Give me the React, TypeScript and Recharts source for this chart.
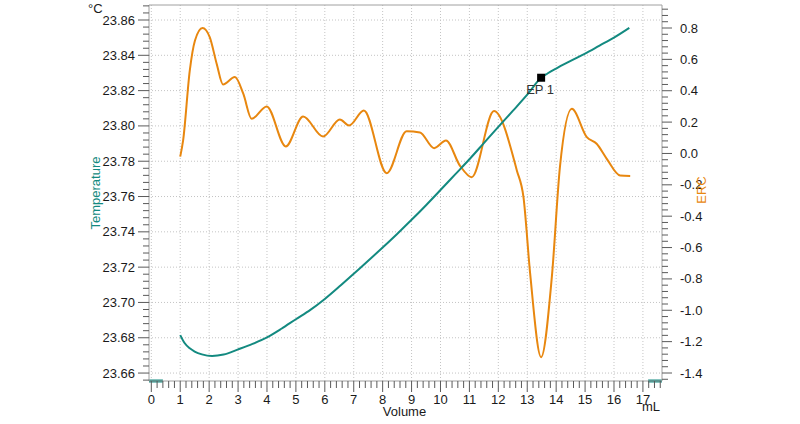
import React from 'react';
import { LineChart, Line, XAxis, YAxis, ReferenceLine, ReferenceDot } from 'recharts';

// ---- data ----
const tempVolume = [1.0, 1.15, 1.33, 1.5, 1.75, 2.1, 2.5, 3.0, 3.5, 4.0, 4.5, 5.0, 5.5, 6.0, 6.5, 7.0, 7.5, 8.0, 8.5, 9.0, 9.5, 10.0, 10.5, 11.0, 11.5, 12.0, 12.5, 13.0, 13.48, 13.7, 14.0, 14.5, 15.0, 15.5, 16.0, 16.53];
const tempValues = [23.6815, 23.677, 23.674, 23.6722, 23.6706, 23.6697, 23.6705, 23.6734, 23.6765, 23.6802, 23.6851, 23.6905, 23.6958, 23.702, 23.709, 23.7163, 23.7236, 23.7311, 23.7388, 23.7468, 23.7551, 23.7637, 23.7724, 23.7811, 23.7903, 23.7995, 23.8085, 23.8177, 23.8273, 23.8297, 23.8325, 23.8368, 23.841, 23.8455, 23.85, 23.8555];

const ercVolume = [1.0, 1.1, 1.33, 1.51, 1.77, 2.02, 2.26, 2.48, 2.89, 3.18, 3.47, 3.99, 4.65, 5.25, 5.94, 6.52, 6.84, 7.35, 8.14, 8.83, 9.29, 9.78, 10.19, 10.67, 11.08, 11.85, 12.64, 12.87, 13.1, 13.48, 13.85, 14.13, 14.54, 15.06, 15.4, 15.75, 16.21, 16.56];
const ercValues = [-0.02, 0.083, 0.529, 0.72, 0.8, 0.742, 0.572, 0.44, 0.487, 0.381, 0.221, 0.3, 0.045, 0.236, 0.108, 0.217, 0.179, 0.274, -0.126, 0.142, 0.134, 0.034, 0.083, -0.077, -0.151, 0.27, -0.108, -0.279, -0.765, -1.299, -0.789, -0.087, 0.285, 0.104, 0.062, -0.034, -0.14, -0.143];

const endPoint = { volume: 13.48, temp: 23.8273, label: 'EP 1' };

const xMajorTicks = [0, 1, 2, 3, 4, 5, 6, 7, 8, 9, 10, 11, 12, 13, 14, 15, 16, 17];
const leftMajorTicks = [23.66, 23.68, 23.7, 23.72, 23.74, 23.76, 23.78, 23.8, 23.82, 23.84, 23.86];
const rightMajorTicks = [-1.4, -1.2, -1.0, -0.8, -0.6, -0.4, -0.2, 0.0, 0.2, 0.4, 0.6, 0.8];

const xDomain: [number, number] = [-0.08, 17.66];
const leftDomain: [number, number] = [23.6555, 23.8685];
const rightDomain: [number, number] = [-1.451, 0.9467];

// ---- derived tables ----
const tempData = tempVolume.map((x, i) => ({ x, t: tempValues[i] }));
const ercData = ercVolume.map((x, i) => ({ x, e: ercValues[i] }));

const xAllTicks: number[] = [];
for (let i = 0; i <= 88; i++) xAllTicks.push(Math.round(i * 2) / 10);
const leftAllTicks: number[] = [];
for (let i = 0; i <= 53; i++) leftAllTicks.push((23656 + 4 * i) / 1000);
const rightAllTicks: number[] = [];
for (let i = 0; i <= 59; i++) rightAllTicks.push((-144 + 4 * i) / 100);

const isMajor = (v: number, list: number[]) => list.some((m) => Math.abs(m - v) < 1e-6);

// ---- styles ----
const TEAL = '#138a80';
const ORANGE = '#e8870f';
const FONT = '"Liberation Sans", Arial, sans-serif';
const TICK_COLOR = '#5a5a5a';
const AXIS_COLOR = '#a0a0a0';
const GRID_COLOR = '#c4c4c4';
const LABEL_COLOR = '#1a1a1a';

const LeftTick = (props: any) => {
  const { x, y, payload } = props;
  const v = payload.value as number;
  const major = isMajor(v, leftMajorTicks);
  return (
    <g>
      <line x1={x - (major ? 11 : 6)} x2={x} y1={y} y2={y} stroke={TICK_COLOR} strokeWidth={1} />
      {major && (
        <text x={x - 14} y={y} dy={4.5} textAnchor="end" fontSize={13} fontFamily={FONT} fill={LABEL_COLOR}>
          {v.toFixed(2)}
        </text>
      )}
    </g>
  );
};

const RightTick = (props: any) => {
  const { x, y, payload } = props;
  const v = payload.value as number;
  const major = isMajor(v, rightMajorTicks);
  return (
    <g>
      <line x1={x} x2={x + (major ? 10 : 6)} y1={y} y2={y} stroke={TICK_COLOR} strokeWidth={1} />
      {major && (
        <text x={x + 18} y={y} dy={4.5} textAnchor="start" fontSize={13} fontFamily={FONT} fill={LABEL_COLOR}>
          {(Math.abs(v) < 1e-9 ? 0 : v).toFixed(1)}
        </text>
      )}
    </g>
  );
};

const BottomTick = (props: any) => {
  const { x, y, payload } = props;
  const v = payload.value as number;
  const major = isMajor(v, xMajorTicks);
  return (
    <g>
      <line x1={x} x2={x} y1={y} y2={y + (major ? 11 : 7)} stroke={TICK_COLOR} strokeWidth={1} />
      {major && (
        <text x={x} y={y + 23} textAnchor="middle" fontSize={13} fontFamily={FONT} fill={LABEL_COLOR}>
          {String(v)}
        </text>
      )}
    </g>
  );
};

const EpShape = (props: any) => {
  const { cx, cy } = props;
  return (
    <g>
      <rect x={cx - 4} y={cy - 4} width={8} height={8} fill="#000" />
      <text x={cx - 1} y={cy + 16.5} textAnchor="middle" fontSize={13} fontFamily={FONT} fill="#333">
        {endPoint.label}
      </text>
    </g>
  );
};

export default function App() {
  return (
    <div style={{ position: 'absolute', left: 0, top: 0, width: 800, height: 424, background: '#fff' }}>
      <LineChart width={800} height={424} margin={{ top: 5, right: 0, bottom: 0, left: 0 }}>
        <XAxis
          type="number"
          dataKey="x"
          domain={xDomain}
          allowDataOverflow
          ticks={xAllTicks}
          interval={0}
          tickSize={0}
          tickMargin={0}
          tickLine={false}
          tick={BottomTick}
          axisLine={{ stroke: AXIS_COLOR }}
          height={43}
        />
        <YAxis
          yAxisId="left"
          orientation="left"
          type="number"
          domain={leftDomain}
          allowDataOverflow
          ticks={leftAllTicks}
          interval={0}
          tickSize={0}
          tickMargin={0}
          tickLine={false}
          tick={LeftTick}
          axisLine={{ stroke: AXIS_COLOR }}
          width={149}
        />
        <YAxis
          yAxisId="right"
          orientation="right"
          type="number"
          domain={rightDomain}
          allowDataOverflow
          ticks={rightAllTicks}
          interval={0}
          tickSize={0}
          tickMargin={0}
          tickLine={false}
          tick={RightTick}
          axisLine={{ stroke: AXIS_COLOR }}
          width={138}
        />
        {xMajorTicks.map((v) => (
          <ReferenceLine
            key={'gx' + v}
            x={v}
            yAxisId="left"
            stroke={GRID_COLOR}
            strokeDasharray="1 2"
          />
        ))}
        {leftMajorTicks.map((v) => (
          <ReferenceLine
            key={'gy' + v}
            y={v}
            yAxisId="left"
            stroke={GRID_COLOR}
            strokeDasharray="1 2"
          />
        ))}
        <ReferenceLine y={leftDomain[1]} yAxisId="left" stroke={AXIS_COLOR} ifOverflow="visible" />
        <ReferenceLine
          yAxisId="left"
          ifOverflow="visible"
          segment={[{ x: xDomain[0], y: leftDomain[0] }, { x: 0.4, y: leftDomain[0] }]}
          stroke={TEAL}
          strokeWidth={3}
        />
        <ReferenceLine
          yAxisId="left"
          ifOverflow="visible"
          segment={[{ x: 17.18, y: leftDomain[0] }, { x: xDomain[1], y: leftDomain[0] }]}
          stroke={TEAL}
          strokeWidth={3}
        />
        <Line
          data={ercData}
          dataKey="e"
          yAxisId="right"
          type="monotone"
          stroke={ORANGE}
          strokeWidth={2}
          dot={false}
          isAnimationActive={false}
        />
        <Line
          data={tempData}
          dataKey="t"
          yAxisId="left"
          type="monotone"
          stroke={TEAL}
          strokeWidth={2}
          dot={false}
          isAnimationActive={false}
        />
        <ReferenceDot
          x={endPoint.volume}
          y={endPoint.temp}
          yAxisId="left"
          r={4}
          shape={EpShape}
          ifOverflow="visible"
        />
      </LineChart>
      <svg
        width={800}
        height={424}
        style={{ position: 'absolute', left: 0, top: 0, pointerEvents: 'none' }}
      >
        <text x={88} y={13} fontSize={13} fontFamily={FONT} fill={LABEL_COLOR}>°C</text>
        <text transform="translate(99.5,193) rotate(-90)" textAnchor="middle" fontSize={13} fontFamily={FONT} fill={TEAL}>
          Temperature
        </text>
        <text transform="translate(706,190) rotate(-90)" textAnchor="middle" fontSize={13} fontFamily={FONT} fill={ORANGE}>
          ERC
        </text>
        <text x={404.5} y={416} textAnchor="middle" fontSize={13} fontFamily={FONT} fill={LABEL_COLOR}>Volume</text>
        <text x={642} y={411} fontSize={13} fontFamily={FONT} fill={LABEL_COLOR}>mL</text>
      </svg>
    </div>
  );
}
